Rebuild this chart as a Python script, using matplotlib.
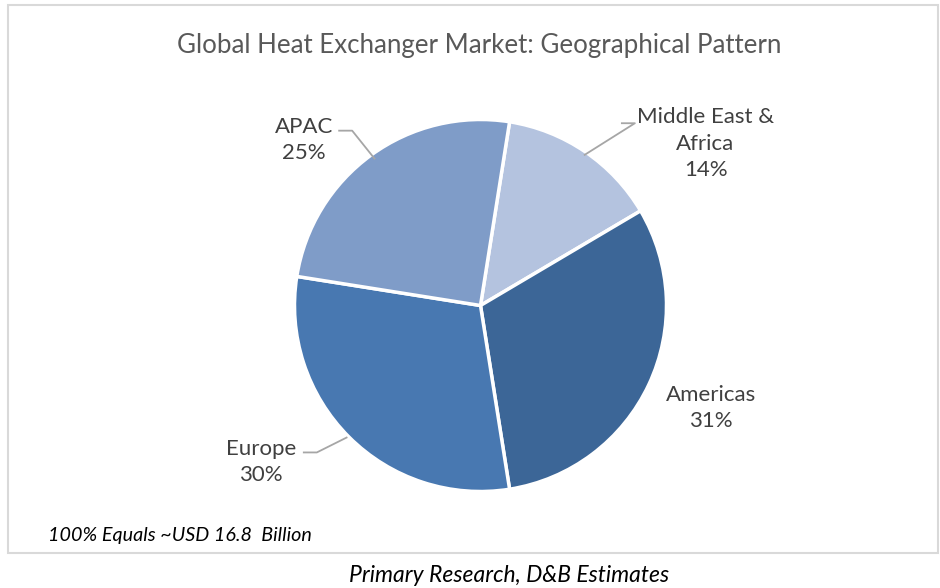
import matplotlib.pyplot as plt
from matplotlib.patches import Rectangle

regions = ['Middle East &\nAfrica', 'Americas', 'Europe', 'APAC']
shares = [14, 31, 30, 25]
colors = ['#B4C3DF', '#3C6697', '#4878B1', '#7F9CC8']

# label block centres (data units, pie radius = 1) and leader line paths
label_pos = [(1.21, 0.87), (1.24, -0.55), (-1.18, -0.84), (-0.95, 0.89)]
leaders = [
    [(0.76, 0.98), (0.83, 0.98), (0.56, 0.81)],
    None,
    [(-0.95, -0.79), (-0.88, -0.79), (-0.72, -0.71)],
    [(-0.76, 0.94), (-0.69, 0.94), (-0.57, 0.79)],
]

plt.rcParams['font.family'] = ['Lato', 'DejaVu Sans']

fig = plt.figure(figsize=(9.4, 5.88), dpi=100)
W, H = 940, 588

# outer chart border
fig.patches.append(Rectangle((8 / W, 1 - 553 / H), 930 / W, 548 / H,
                             transform=fig.transFigure, fill=False,
                             edgecolor='#D9D9D9', linewidth=1.5))

cx, cy, r = 480.5, 305.5, 186
ax = fig.add_axes([(cx - r) / W, 1 - (cy + r) / H, 2 * r / W, 2 * r / H])
ax.set_aspect('equal')
ax.axis('off')

wedges, _ = ax.pie(shares, colors=colors, startangle=81, counterclock=False,
                   radius=1, wedgeprops=dict(edgecolor='white', linewidth=2.5))
ax.set_xlim(-1, 1)
ax.set_ylim(-1, 1)

for name, val, pos, path in zip(regions, shares, label_pos, leaders):
    ax.text(pos[0], pos[1], f'{name}\n{val}%', ha='center', va='center',
            fontsize=16, color='#404040', linespacing=1.4, clip_on=False)
    if path:
        xs, ys = zip(*path)
        ax.plot(xs, ys, color='#A6A6A6', linewidth=1.3, clip_on=False)

fig.text(479 / W, 1 - 45 / H, 'Global Heat Exchanger Market: Geographical Pattern',
         ha='center', va='center', fontsize=18.6, color='#595959')
fig.text(48 / W, 1 - 536 / H, '100% Equals ~USD 16.8  Billion',
         ha='left', va='center', fontsize=14.2, style='italic', color='black')
fig.text(509 / W, 1 - 575 / H, 'Primary Research, D&B Estimates',
         ha='center', va='center', fontsize=16.5, style='italic', color='black')

fig.savefig('out.png', dpi=100, facecolor='white')
